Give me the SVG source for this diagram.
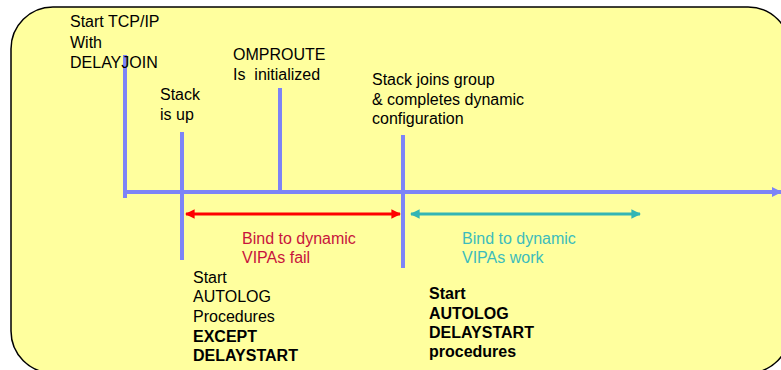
<svg xmlns="http://www.w3.org/2000/svg" width="781" height="370" viewBox="0 0 781 370">
  <style>
    text { font-family: "Liberation Sans", Arial, sans-serif; font-size: 16px; fill: #000; }
    .b { font-weight: bold; }
    .red { fill: #c8143c; }
    .teal { fill: #3cbcbc; }
    .tick { stroke: #7d84f7; stroke-width: 4; fill: none; }
  </style>
  <defs>
    <marker id="hRed" viewBox="0 0 10 10" refX="9" refY="5" markerWidth="4" markerHeight="3.2" orient="auto-start-reverse" markerUnits="strokeWidth">
      <path d="M0,0 L10,5 L0,10 Z" fill="#ff0000"/>
    </marker>
    <marker id="hTeal" viewBox="0 0 10 10" refX="9" refY="5" markerWidth="4" markerHeight="3.2" orient="auto-start-reverse" markerUnits="strokeWidth">
      <path d="M0,0 L10,5 L0,10 Z" fill="#33b5b5"/>
    </marker>
    <marker id="hBlue" viewBox="0 0 10 10" refX="9" refY="5" markerWidth="2.6" markerHeight="3.4" orient="auto" markerUnits="strokeWidth">
      <path d="M0,0 L10,5 L0,10 Z" fill="#7d84f7"/>
    </marker>
  </defs>

  <!-- panel -->
  <rect x="11" y="7" width="779" height="366" rx="42" ry="42" fill="#ffff9e" stroke="#000" stroke-width="1.5"/>

  <!-- timeline and event markers -->
  <g id="connectors">
    <line class="tick" x1="125" y1="192" x2="781" y2="192" marker-end="url(#hBlue)"/>
    <line class="tick" x1="125" y1="55" x2="125" y2="198"/>
    <line class="tick" x1="182" y1="132" x2="182" y2="260"/>
    <line class="tick" x1="280" y1="88" x2="280" y2="190"/>
    <line class="tick" x1="403" y1="135" x2="403" y2="268"/>
    <line x1="186" y1="214" x2="400" y2="214" stroke="#ff0000" stroke-width="3" marker-start="url(#hRed)" marker-end="url(#hRed)"/>
    <line x1="411" y1="214" x2="640" y2="214" stroke="#33b5b5" stroke-width="3" marker-start="url(#hTeal)" marker-end="url(#hTeal)"/>
  </g>

  <g id="start-tcpip">
    <text x="70" y="27">Start TCP/IP</text>
    <text x="70" y="47.5">With</text>
    <text x="70" y="68">DELAYJOIN</text>
  </g>

  <g id="stack-up">
    <text x="160" y="100">Stack</text>
    <text x="160" y="120">is up</text>
  </g>

  <g id="omproute">
    <text x="233" y="60">OMPROUTE</text>
    <text x="233" y="80" xml:space="preserve">Is  initialized</text>
  </g>

  <g id="stack-joins">
    <text x="372" y="85">Stack joins group</text>
    <text x="372" y="104.5">&amp; completes dynamic</text>
    <text x="372" y="124">configuration</text>
  </g>

  <g id="bind-fail">
    <text class="red" x="242" y="243.5">Bind to dynamic</text>
    <text class="red" x="242" y="262.5">VIPAs fail</text>
  </g>

  <g id="bind-work">
    <text class="teal" x="462" y="243.5">Bind to dynamic</text>
    <text class="teal" x="462" y="262.5">VIPAs work</text>
  </g>

  <g id="autolog-except">
    <text x="193" y="282.5">Start</text>
    <text x="193" y="302">AUTOLOG</text>
    <text x="193" y="322">Procedures</text>
    <text class="b" x="193" y="341.5">EXCEPT</text>
    <text class="b" x="193" y="361">DELAYSTART</text>
  </g>

  <g id="autolog-delaystart">
    <text class="b" x="429" y="299">Start</text>
    <text class="b" x="429" y="318.5">AUTOLOG</text>
    <text class="b" x="429" y="337.5">DELAYSTART</text>
    <text class="b" x="429" y="357">procedures</text>
  </g>
</svg>
